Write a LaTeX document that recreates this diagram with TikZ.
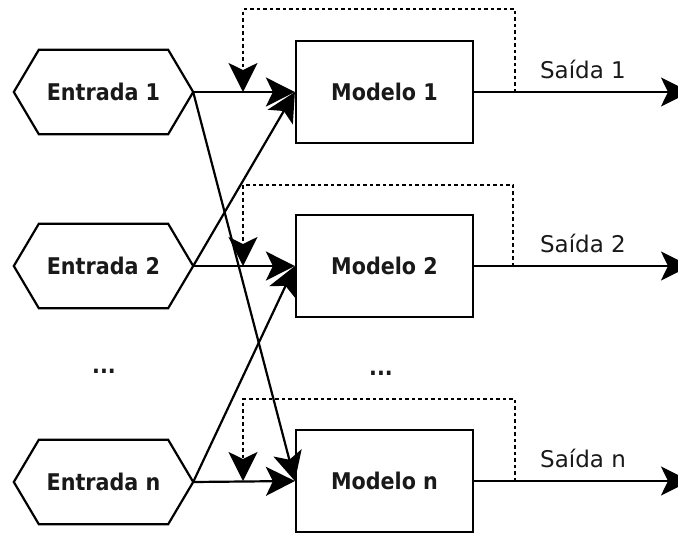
\documentclass[tikz,border=0pt]{standalone}
\usepackage{fontspec}
\setmainfont{DejaVu Sans}
\newfontfamily\condfont{DejaVu Sans Condensed}
\usetikzlibrary{arrows.meta}
\begin{document}
\begin{tikzpicture}[x=1pt,y=-1pt,
  >={Stealth[length=29pt,width=29pt,inset=7pt]},
  wire/.style={line width=2.2pt},
  flow/.style={wire,->},
  feedback/.style={wire,dash pattern=on 3.5pt off 3pt,->},
  boldtext/.style={font=\condfont\bfseries\fontsize{23}{26}\selectfont,text=black!90},
  inbox/.style={boldtext,minimum width=179pt,minimum height=84pt,inner sep=0pt},
  modelbox/.style={boldtext,draw,line width=2.2pt,minimum width=177pt,minimum height=102pt,inner sep=0pt},
  outlabel/.style={font=\fontsize{23}{26}\selectfont,text=black!90,anchor=base,inner sep=0pt},
  dots/.style={boldtext,inner sep=0pt},
]
\useasboundingbox (0,0) rectangle (678,533);
\clip (0,0) rectangle (678,533);

% inputs
\node[inbox] (e1) at (103.5,92)  {Entrada 1};
\node[inbox] (e2) at (103.5,266) {Entrada 2};
\node[inbox] (en) at (103.5,482) {Entrada n};
\foreach \n in {e1,e2,en}
  \draw[wire] (\n.west) -- ([xshift=25pt]\n.north west) -- ([xshift=-25pt]\n.north east)
    -- (\n.east) -- ([xshift=-25pt]\n.south east) -- ([xshift=25pt]\n.south west) -- cycle;

% models
\node[modelbox] (m1) at (384.5,92)  {Modelo 1};
\node[modelbox] (m2) at (384.5,266) {Modelo 2};
\node[modelbox] (mn) at (384.5,481) {Modelo n};

% ellipses
\node[dots] (d1) at (104,371) {...};
\node[dots] (d2) at (381,373) {...};

% inputs to models
\draw[flow] (e1.east) -- (m1.west);
\draw[flow] (e1.east) -- (mn.west);
\draw[flow] (e2.east) -- (m1.west);
\draw[flow] (e2.east) -- (m2.west);
\draw[flow] (en.east) -- (m2.west);
\draw[flow] (en.east) -- (mn.west);

% outputs
\coordinate (o1) at (690,92);
\coordinate (o2) at (690,266);
\coordinate (on) at (690,481);
\draw[flow] (m1.east) -- (o1);
\draw[flow] (m2.east) -- (o2);
\draw[flow] (mn.east) -- (on);
\node[outlabel] (s1) at (583,78)  {Saída 1};
\node[outlabel] (s2) at (583,252) {Saída 2};
\node[outlabel] (sn) at (583,467) {Saída n};

% feedback loops
\coordinate (f1a) at (515,92);  \coordinate (f1b) at (243,9);   \coordinate (f1c) at (243,92);
\coordinate (f2a) at (513,266); \coordinate (f2b) at (243,185); \coordinate (f2c) at (243,266);
\coordinate (fna) at (515,481); \coordinate (fnb) at (243,399); \coordinate (fnc) at (243,481);
\draw[feedback] (f1a) |- (f1b) -- (f1c);
\draw[feedback] (f2a) |- (f2b) -- (f2c);
\draw[feedback] (fna) |- (fnb) -- (fnc);
\end{tikzpicture}
\end{document}
